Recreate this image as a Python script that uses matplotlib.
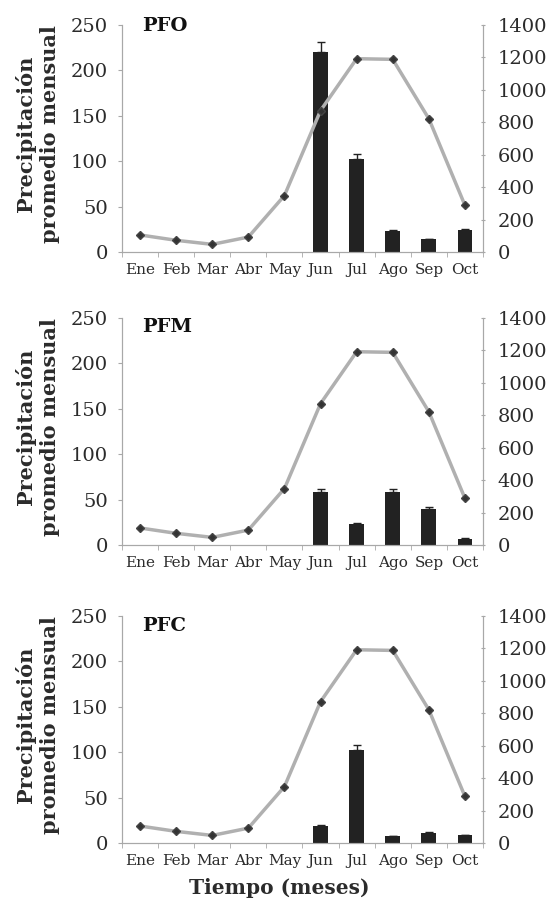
import numpy as np
import matplotlib
matplotlib.use('Agg')
from matplotlib import pyplot as plt

# datos
meses = ['Ene', 'Feb', 'Mar', 'Abr', 'May', 'Jun', 'Jul', 'Ago', 'Sep', 'Oct']
precip = [105, 72, 47, 92, 348, 872, 1192, 1188, 822, 288]

paneles = ['PFO', 'PFM', 'PFC']
# barras (eje izquierdo) con su error
barras_pfo = [0, 0, 0, 0, 0, 220.5, 102, 23, 14, 24]
error_pfo = [0, 0, 0, 0, 0, 11, 5.5, 1.5, 0.8, 1.5]
barras_pfm = [0, 0, 0, 0, 0, 58.5, 23.5, 58.5, 40, 7]
error_pfm = [0, 0, 0, 0, 0, 2.8, 0.8, 2.8, 2, 0.8]
barras_pfc = [0, 0, 0, 0, 0, 19, 102.5, 7.5, 11.5, 8.5]
error_pfc = [0, 0, 0, 0, 0, 0.8, 5.5, 0.8, 0.8, 0.8]

barras = [barras_pfo, barras_pfm, barras_pfc]
errores = [error_pfo, error_pfm, error_pfc]

gris = '#a8a8a8'
texto = '#2b2b2b'
plt.rcParams['font.family'] = ['DejaVu Serif']

fig = plt.figure(figsize=(5.54, 8.98), dpi=100)
# posiciones de cada panel [izq, abajo, ancho, alto]
posiciones = [[0.2202, 0.7194, 0.6516, 0.2528],
              [0.2202, 0.3931, 0.6516, 0.2528],
              [0.2202, 0.0612, 0.6516, 0.2528]]
# altura del nombre del panel (fraccion del eje)
y_nombre = [0.995, 0.96, 0.955]

x = np.arange(len(meses))
for i, nombre in enumerate(paneles):
    ax = fig.add_axes(posiciones[i])
    ax.bar(x, barras[i], width=0.41, color='#222222', zorder=2)
    yerr = np.array([np.zeros(len(x)), errores[i]])
    mask = np.array(barras[i]) > 0
    ax.errorbar(x[mask], np.array(barras[i])[mask], yerr=yerr[:, mask],
                fmt='none', ecolor='#222222', elinewidth=1, capsize=3, capthick=1)
    ax.set_xlim(-0.5, 9.5)
    ax.set_ylim(0, 250)
    ax.set_yticks([0, 50, 100, 150, 200, 250])
    ax.tick_params(axis='y', labelsize=14, colors=gris, labelcolor=texto,
                   length=3, pad=7)
    # etiquetas de mes centradas, marcas en los limites
    ax.set_xticks(x)
    ax.set_xticklabels(meses)
    ax.set_xticks(np.arange(-0.5, 10, 1), minor=True)
    ax.tick_params(axis='x', which='major', length=0, labelsize=11,
                   labelcolor=texto, pad=8)
    ax.tick_params(axis='x', which='minor', length=3.5, color=gris)
    for s in ['left', 'bottom', 'right']:
        ax.spines[s].set_color(gris)
    ax.spines['top'].set_visible(False)
    ax.text(-0.235, 0.52, 'Precipitación\npromedio mensual', transform=ax.transAxes,
            rotation=90, ha='center', va='center', multialignment='center',
            fontsize=15, fontweight='bold', color=texto, linespacing=1.25)
    ax.text(0.055, y_nombre[i], nombre, transform=ax.transAxes, fontsize=14,
            fontweight='bold', color='#111111', va='center', ha='left')

    ax2 = ax.twinx()
    ax2.plot(x, precip, color='#b0b0b0', linewidth=2.5, marker='D',
             markersize=4.5, markerfacecolor='#333333', markeredgecolor='#444444',
             zorder=3)
    ax2.set_ylim(0, 1400)
    ax2.set_yticks(range(0, 1401, 200))
    ax2.tick_params(axis='y', labelsize=14, colors=gris, labelcolor=texto,
                    length=3, direction='inout', pad=9)
    for s in ['left', 'bottom', 'right']:
        ax2.spines[s].set_color(gris)
    ax2.spines['top'].set_visible(False)
    if i == 2:
        ax.set_xlabel('Tiempo (meses)', fontsize=14.5, fontweight='bold',
                      color=texto)
        ax.xaxis.set_label_coords(0.435, -0.155)

fig.savefig('out.png', dpi=100)
